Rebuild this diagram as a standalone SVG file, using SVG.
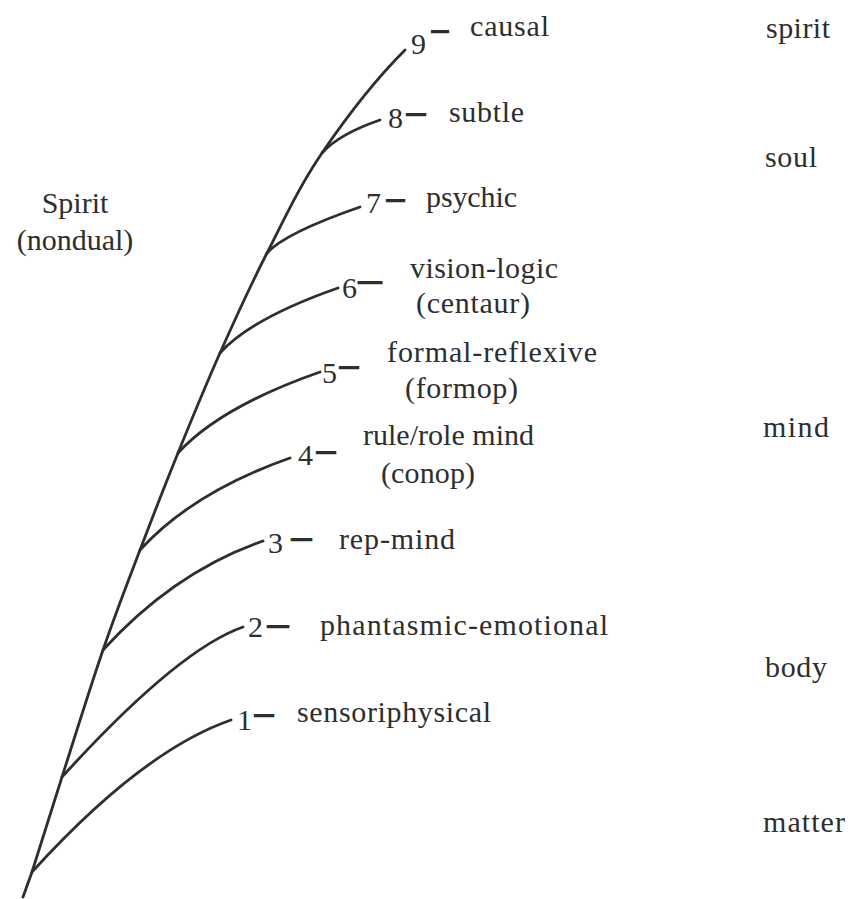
<svg xmlns="http://www.w3.org/2000/svg" width="851" height="899" viewBox="0 0 851 899">
  <style>
    .t { font-family: "Liberation Serif", "Times New Roman", serif; font-size: 30px; fill: #2e2e2e; }
    .d { stroke: #2e2e2e; stroke-width: 1.6px; }
    .ln { fill: none; stroke: #2e2e2e; stroke-width: 2.8; stroke-linecap: round; }
  </style>
  <rect width="851" height="899" fill="#ffffff"/>

  <g id="connectors">
    <path class="ln" d="M23,897 L32,872 C38.5,852 50.2,814 62,777 C73.8,740 90,687.8 103,650 C116,612.2 127.5,582.8 140,550 C152.5,517.2 164.7,485.8 178,453 C191.3,420.2 205.2,386.3 220,353 C234.8,319.7 250,286.3 267,253 C284,219.7 299,186.8 322,153 C345,119.2 375,80 405,50"/>
    <path class="ln" d="M32,872 Q142,751 231,720"/>
    <path class="ln" d="M62,777 Q177.5,650 243,627"/>
    <path class="ln" d="M103,650 Q174,572 263,541"/>
    <path class="ln" d="M140,550 Q193,492 290,458"/>
    <path class="ln" d="M178,453 Q220,407 320,372"/>
    <path class="ln" d="M220,353 Q252,318 338,288"/>
    <path class="ln" d="M267,253 Q285,233 360,207"/>
    <path class="ln" d="M322,153 Q339,134 380,120"/>
  </g>

  <g id="spirit-nondual">
    <text class="t" x="75" y="213" text-anchor="middle">Spirit</text>
    <text class="t" x="75" y="250" text-anchor="middle">(nondual)</text>
  </g>

  <g id="level-9">
    <text class="t"><tspan x="411" y="54">9</tspan><tspan class="d" x="432" y="38.5" textLength="16" lengthAdjust="spacingAndGlyphs">–</tspan></text>
    <text class="t" x="470" y="36" textLength="79" lengthAdjust="spacing">causal</text>
  </g>
  <g id="level-8">
    <text class="t"><tspan x="388" y="128">8</tspan><tspan class="d" x="407" y="121.5" textLength="18" lengthAdjust="spacingAndGlyphs">–</tspan></text>
    <text class="t" x="449" y="122" textLength="75" lengthAdjust="spacing">subtle</text>
  </g>
  <g id="level-7">
    <text class="t"><tspan x="366" y="213">7</tspan><tspan class="d" x="387" y="207.5" textLength="17" lengthAdjust="spacingAndGlyphs">–</tspan></text>
    <text class="t" x="426" y="207" textLength="91" lengthAdjust="spacing">psychic</text>
  </g>
  <g id="level-6">
    <text class="t"><tspan x="342" y="298">6</tspan><tspan class="d" x="359" y="289.5" textLength="22" lengthAdjust="spacingAndGlyphs">–</tspan></text>
    <text class="t" x="410" y="278" textLength="148" lengthAdjust="spacing">vision-logic</text>
    <text class="t" x="416" y="313" textLength="114" lengthAdjust="spacing">(centaur)</text>
  </g>
  <g id="level-5">
    <text class="t"><tspan x="322" y="383">5</tspan><tspan class="d" x="340" y="374.5" textLength="18" lengthAdjust="spacingAndGlyphs">–</tspan></text>
    <text class="t" x="387" y="362" textLength="210" lengthAdjust="spacing">formal-reflexive</text>
    <text class="t" x="405" y="398" textLength="113" lengthAdjust="spacing">(formop)</text>
  </g>
  <g id="level-4">
    <text class="t"><tspan x="298" y="465">4</tspan><tspan class="d" x="317" y="459.5" textLength="18" lengthAdjust="spacingAndGlyphs">–</tspan></text>
    <text class="t" x="363" y="445" textLength="171" lengthAdjust="spacing">rule/role mind</text>
    <text class="t" x="381" y="483" textLength="94" lengthAdjust="spacing">(conop)</text>
  </g>
  <g id="level-3">
    <text class="t"><tspan x="268" y="553">3</tspan><tspan class="d" x="292" y="546.5" textLength="19" lengthAdjust="spacingAndGlyphs">–</tspan></text>
    <text class="t" x="339" y="549" textLength="116" lengthAdjust="spacing">rep-mind</text>
  </g>
  <g id="level-2">
    <text class="t"><tspan x="248" y="637">2</tspan><tspan class="d" x="268" y="633.5" textLength="20" lengthAdjust="spacingAndGlyphs">–</tspan></text>
    <text class="t" x="320" y="635" textLength="288" lengthAdjust="spacing">phantasmic-emotional</text>
  </g>
  <g id="level-1">
    <text class="t"><tspan x="237" y="730">1</tspan><tspan class="d" x="255" y="722.5" textLength="18" lengthAdjust="spacingAndGlyphs">–</tspan></text>
    <text class="t" x="297" y="722" textLength="194" lengthAdjust="spacing">sensoriphysical</text>
  </g>

  <g id="realm-spirit"><text class="t" x="766" y="38" textLength="64" lengthAdjust="spacing">spirit</text></g>
  <g id="realm-soul"><text class="t" x="765" y="167" textLength="52" lengthAdjust="spacing">soul</text></g>
  <g id="realm-mind"><text class="t" x="763" y="437" textLength="66" lengthAdjust="spacing">mind</text></g>
  <g id="realm-body"><text class="t" x="765" y="677" textLength="62" lengthAdjust="spacing">body</text></g>
  <g id="realm-matter"><text class="t" x="763" y="832" textLength="82" lengthAdjust="spacing">matter</text></g>
</svg>
